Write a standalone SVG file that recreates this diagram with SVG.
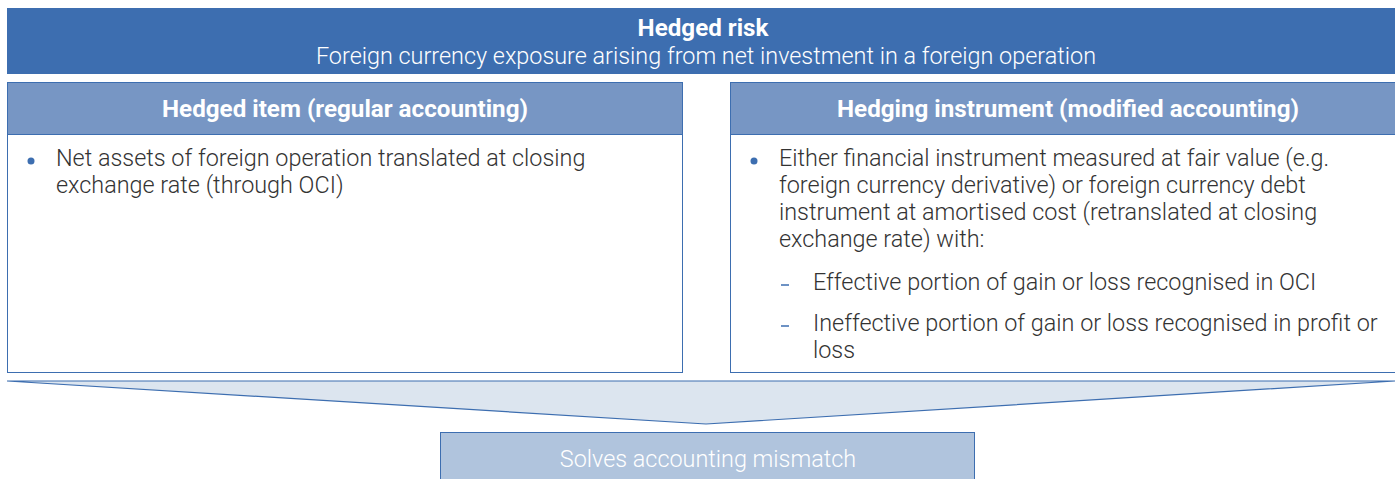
<svg xmlns="http://www.w3.org/2000/svg" width="1395" height="479" viewBox="0 0 1395 479">
<style>
.t{font-family:Roboto,"Liberation Sans",sans-serif;font-weight:300;font-size:23.4px;fill:#333333}
.w{font-family:Roboto,"Liberation Sans",sans-serif;fill:#ffffff;text-anchor:middle}
.b{font-weight:700;font-size:24.2px}
.l{font-weight:300;font-size:23.4px}
.hdr{fill:#7796c4;stroke:#3d6eb0;stroke-width:1}
.body{fill:#ffffff;stroke:#3d6eb0;stroke-width:1}
.dot{fill:#3d6eb0}
.dash{stroke:#3d6eb0;stroke-width:1.5}
</style>
<g id="hedged-risk">
<rect x="7" y="8" width="1395" height="66" fill="#3d6eb0"/>
<text class="w b" x="703" y="36">Hedged risk</text>
<text class="w l" x="706" y="64">Foreign currency exposure arising from net investment in a foreign operation</text>
</g>
<g id="hedged-item">
<rect class="body" x="7.5" y="82.5" width="675" height="290"/>
<rect class="hdr" x="7.5" y="82.5" width="675" height="52"/>
<text class="w b" x="345" y="117">Hedged item (regular accounting)</text>
<circle class="dot" cx="31" cy="161" r="3.5"/>
<text class="t" x="56" y="166">Net assets of foreign operation translated at closing</text>
<text class="t" x="56" y="193">exchange rate (through OCI)</text>
</g>
<g id="hedging-instrument">
<rect class="body" x="730.5" y="82.5" width="680" height="290"/>
<rect class="hdr" x="730.5" y="82.5" width="680" height="52"/>
<text class="w b" x="1068" y="117">Hedging instrument (modified accounting)</text>
<circle class="dot" cx="754" cy="161" r="3.5"/>
<text class="t" x="779" y="166">Either financial instrument measured at fair value (e.g.</text>
<text class="t" x="779" y="193">foreign currency derivative) or foreign currency debt</text>
<text class="t" x="779" y="220">instrument at amortised cost (retranslated at closing</text>
<text class="t" x="779" y="247">exchange rate) with:</text>
<line class="dash" x1="781" y1="285" x2="789" y2="285"/>
<text class="t" x="813" y="290">Effective portion of gain or loss recognised in OCI</text>
<line class="dash" x1="781" y1="326" x2="789" y2="326"/>
<text class="t" x="813" y="331">Ineffective portion of gain or loss recognised in profit or</text>
<text class="t" x="813" y="358">loss</text>
</g>
<g id="connectors">
<polygon points="7,381 1395,381 706,424" fill="#dce5ef" stroke="#3d6eb0" stroke-width="1.2"/>
</g>
<g id="solves">
<rect x="440.5" y="432.5" width="534" height="50" fill="#b0c4dd" stroke="#3d6eb0" stroke-width="1"/>
<text class="w l" x="708" y="467">Solves accounting mismatch</text>
</g>
</svg>
